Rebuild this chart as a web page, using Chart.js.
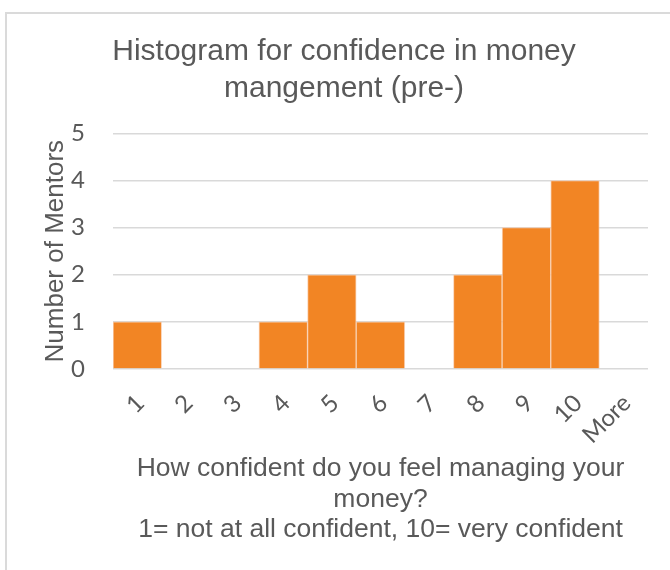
<!DOCTYPE html>
<html>
<head>
<meta charset="utf-8">
<script src="https://cdn.jsdelivr.net/npm/chart.js@4/dist/chart.umd.min.js"></script>
<style>
  html, body { margin: 0; padding: 0; background: #fff; }
  #wrap { width: 670px; height: 570px; }
</style>
</head>
<body>
<div id="wrap"><canvas id="chart"></canvas></div>
<script>
// data
const categories = ['1', '2', '3', '4', '5', '6', '7', '8', '9', '10', 'More'];
const mentorCounts = [1, 0, 0, 1, 2, 1, 0, 2, 3, 4, 0];
const yRange = [0, 5];

const chartTitle = ['Histogram for confidence in money', 'mangement (pre-)'];
const xTitle = ['How confident do you feel managing your', 'money?', '1= not at all confident, 10= very confident'];
const yTitle = 'Number of Mentors';

const GRAY = '#595959';
const ORANGE = '#F28524';

// light frame like the one around the excel chart object
const chartFrame = {
  id: 'chartFrame',
  beforeDraw(chart) {
    const {ctx} = chart;
    ctx.save();
    ctx.strokeStyle = '#DADADA';
    ctx.lineWidth = 2;
    ctx.strokeRect(6, 13, 720, 620);
    ctx.restore();
  }
};

new Chart(document.getElementById('chart').getContext('2d'), {
  type: 'bar',
  data: {
    labels: categories,
    datasets: [{
      data: mentorCounts,
      backgroundColor: ORANGE,
      borderColor: 'rgba(248,200,165,0.8)',
      borderWidth: 1,
      barPercentage: 1,
      categoryPercentage: 1
    }]
  },
  options: {
    responsive: true,
    maintainAspectRatio: false,
    animation: false,
    layout: { padding: { left: 40, right: 22, top: 0, bottom: 0 } },
    plugins: {
      legend: { display: false },
      tooltip: { enabled: false },
      title: {
        display: true,
        text: chartTitle,
        color: GRAY,
        font: { family: '"Liberation Sans", Arial, sans-serif', size: 30, weight: 'normal', lineHeight: 1.24 },
        padding: { top: 33, bottom: 26 }
      }
    },
    scales: {
      x: {
        grid: { display: false },
        border: { display: false },
        ticks: {
          color: GRAY,
          autoSkip: false,
          minRotation: 45,
          maxRotation: 45,
          padding: 12,
          labelOffset: 3,
          font: { family: 'Lato, "Liberation Sans", sans-serif', size: 24 }
        },
        title: {
          display: true,
          text: xTitle,
          color: GRAY,
          font: { family: '"Liberation Sans", Arial, sans-serif', size: 26.5, lineHeight: 1.15 },
          padding: { top: 0, bottom: 25 }
        },
        afterFit(scale) { scale.height = 201; }
      },
      y: {
        min: yRange[0],
        max: yRange[1],
        border: { display: false },
        grid: { color: '#D9D9D9', lineWidth: 1.5, drawTicks: false },
        ticks: {
          stepSize: 1,
          color: GRAY,
          padding: 28,
          font: { family: 'Lato, "Liberation Sans", sans-serif', size: 24 }
        },
        title: {
          display: true,
          text: yTitle,
          color: GRAY,
          font: { family: '"Liberation Sans", Arial, sans-serif', size: 26, lineHeight: 1.2 },
          padding: { top: 0, bottom: 0 }
        },
        afterFit(scale) { scale.width = 73; }
      }
    }
  },
  plugins: [chartFrame]
});
</script>
</body>
</html>
